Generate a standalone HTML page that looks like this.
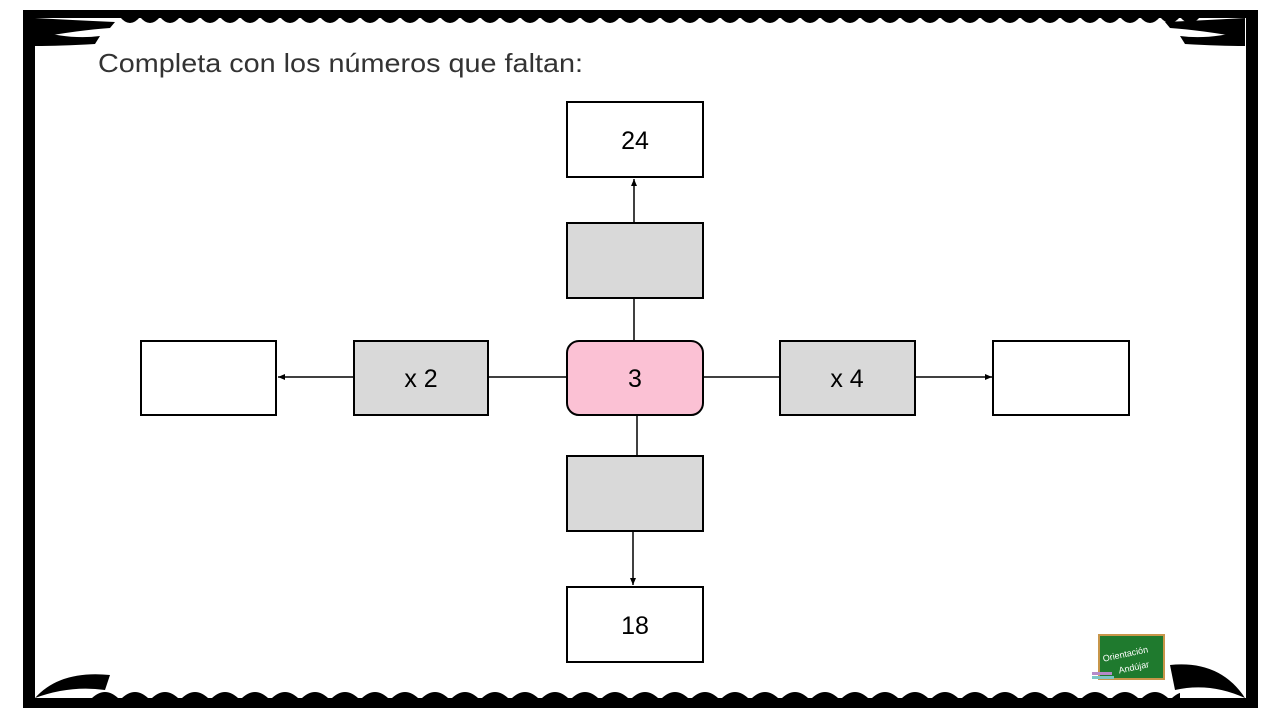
<!DOCTYPE html>
<html><head><meta charset="utf-8"><style>
body{margin:0;background:#fff;}
svg{display:block}
text{font-family:"Liberation Sans",sans-serif;}
</style></head><body>
<svg width="1280" height="720" viewBox="0 0 1280 720" xmlns="http://www.w3.org/2000/svg">
<defs>
<marker id="a" markerWidth="8" markerHeight="8" refX="7" refY="4" orient="auto" markerUnits="userSpaceOnUse"><path d="M0,1 L7,4 L0,7 z" fill="#000"/></marker>
<pattern id="ts" x="0" y="17" width="20" height="10" patternUnits="userSpaceOnUse"><path d="M0,0 Q10,12 20,0 z" fill="#000"/></pattern>
<pattern id="bs" x="0" y="686" width="30" height="14" patternUnits="userSpaceOnUse"><path d="M0,14 Q15,-2 30,14 z" fill="#000"/></pattern>
</defs>
<rect x="23" y="10" width="1235" height="8" fill="#000"/>
<rect x="23" y="10" width="12" height="698" fill="#000"/>
<rect x="1246" y="10" width="12" height="698" fill="#000"/>
<rect x="23" y="698" width="1235" height="10" fill="#000"/>
<rect x="120" y="17" width="1080" height="8" fill="url(#ts)"/>
<rect x="90" y="686" width="1090" height="13" fill="url(#bs)"/>
<g fill="#000">
<path d="M35,18 Q70,20 115,22 L110,28 Q80,30 35,38 z"/>
<path d="M35,30 Q70,40 100,36 L95,44 Q60,46 35,46 z"/>
<path d="M1245,18 Q1210,20 1165,22 L1170,28 Q1200,30 1245,38 z"/>
<path d="M1245,30 Q1210,40 1180,36 L1185,44 Q1220,46 1245,46 z"/>
<path d="M35,698 Q60,670 110,675 L105,690 Q70,685 35,698 z"/>
<path d="M1245,698 Q1220,660 1170,665 L1175,690 Q1210,682 1245,698 z"/>
</g>
<text x="98" y="72" font-size="26" fill="#333" textLength="485" lengthAdjust="spacingAndGlyphs">Completa con los números que faltan:</text>
<g stroke="#000" stroke-width="1.5" fill="none">
<line x1="634" y1="298" x2="634" y2="340"/>
<line x1="634" y1="222" x2="634" y2="179" marker-end="url(#a)"/>
<line x1="637" y1="415" x2="637" y2="455"/>
<line x1="633" y1="531" x2="633" y2="585" marker-end="url(#a)"/>
<line x1="488" y1="377" x2="567" y2="377"/>
<line x1="354" y1="377" x2="278" y2="377" marker-end="url(#a)"/>
<line x1="703" y1="377" x2="780" y2="377"/>
<line x1="915" y1="377" x2="992" y2="377" marker-end="url(#a)"/>
</g>
<g stroke="#000" stroke-width="2">
<rect x="567" y="102" width="136" height="75" fill="#fff"/>
<rect x="567" y="223" width="136" height="75" fill="#d9d9d9"/>
<rect x="567" y="341" width="136" height="74" rx="12" fill="#fbc1d4"/>
<rect x="354" y="341" width="134" height="74" fill="#d9d9d9"/>
<rect x="141" y="341" width="135" height="74" fill="#fff"/>
<rect x="780" y="341" width="135" height="74" fill="#d9d9d9"/>
<rect x="993" y="341" width="136" height="74" fill="#fff"/>
<rect x="567" y="456" width="136" height="75" fill="#d9d9d9"/>
<rect x="567" y="587" width="136" height="75" fill="#fff"/>
</g>
<g font-size="25" text-anchor="middle" fill="#000">
<text x="635" y="149">24</text>
<text x="635" y="387">3</text>
<text x="421" y="387">x 2</text>
<text x="847" y="387">x 4</text>
<text x="635" y="634">18</text>
</g>
<rect x="1099" y="635" width="65" height="44" fill="#1f7a2e" stroke="#c8964a" stroke-width="2"/>
<text x="1102" y="656" font-size="9" fill="#fff" transform="rotate(-12 1130 652)">Orientación</text>
<text x="1118" y="670" font-size="9" fill="#fff" transform="rotate(-12 1135 666)">Andújar</text>
<rect x="1092" y="672" width="20" height="3" fill="#b58ac9"/>
<rect x="1092" y="676" width="22" height="3" fill="#7cc6c6"/>
</svg>
</body></html>
